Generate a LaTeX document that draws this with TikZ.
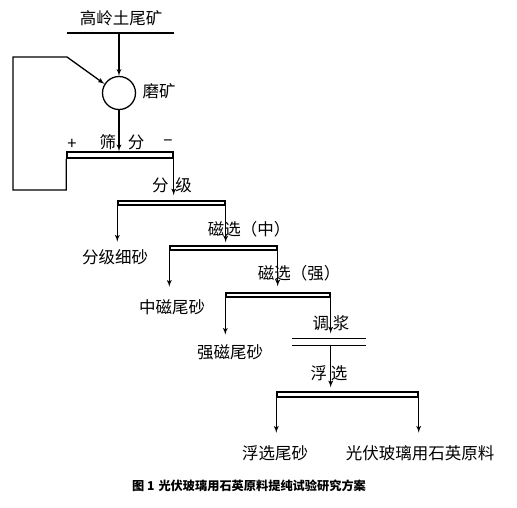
\documentclass[tikz,border=0pt]{standalone}
\usepackage{fontspec}
\newfontfamily\cjk{Noto Sans CJK SC}
\usetikzlibrary{arrows}

\begin{document}
\begin{tikzpicture}[x=1pt,y=-1pt,>=latex',line width=1.3pt,
	every node/.style={font=\cjk\fontsize{16.5}{18}\selectfont,inner sep=0pt},
	bar/.style={draw,rectangle,line width=1.4pt,minimum height=4pt,fill=white},
	thin bar/.style={rectangle,minimum height=6pt}]
			\useasboundingbox (0,0) rectangle (517,507);
			% feed and grinding
			\node (feed) at (121,18) {高岭土尾矿};
			\coordinate (feedL) at (67,33);
			\coordinate (feedR) at (174,33);
			\draw (feedL) -- (feedR);
			\node [circle,draw,minimum size=33pt] (mill) at (119,93) {};
			\node (millT) at (159,91) {磨矿};
			\draw [->] (feedL -| mill) -- (mill.north);
			% screening
			\node [bar,minimum width=106pt,minimum height=6pt] (screen) at (120,155) {};
			\node (screenT) at (122,142) {筛\hspace{12pt}分};
			\node (plus) at (72,144) {+};
			\node (minus) at (168,143) {−};
			\draw [->] (mill.south) -- (mill.south |- screen.north);
			\coordinate (retB) at (13,190);
			\coordinate (retT) at (13,57);
			\coordinate (retK) at (67,57);
			\draw [->] (screen.south west) |- (retB) -- (retT) -- (retK) -- (mill.148);
			% classifying
			\node [bar,minimum width=107pt] (cls) at (171.5,203) {};
			\node (clsT) at (172,185) {分\hspace{7pt}级};
			\draw [->,shorten >=5pt] (screen.south east) -- (screen.south east |- cls.north);
			\node (fine) at (115,257) {分级细砂};
			\draw [->,shorten >=7pt] (cls.south west) -- (cls.south west |- fine.north);
			% magnetic separation (medium)
			\node [bar,minimum width=107pt] (magA) at (223.5,248) {};
			\node (magAT) at (249,229) {磁选（中）};
			\draw [->,shorten >=3pt] (cls.south east) -- (cls.south east |- magA.north);
			\node (tailA) at (172,307) {中磁尾砂};
			\draw [->,shorten >=12pt] (magA.south west) -- (magA.south west |- tailA.north);
			% magnetic separation (strong)
			\node [bar,minimum width=104pt] (magB) at (278,295) {};
			\node (magBT) at (299,273) {磁选（强）};
			\draw [->,shorten >=6pt] (magA.south east) -- (magA.south east |- magB.north);
			\node (tailB) at (230,352) {强磁尾砂};
			\draw [->,shorten >=9pt] (magB.south west) -- (magB.south west |- tailB.north);
			% pulp conditioning
			\node [thin bar,minimum width=72pt] (pulp) at (329,342) {};
			\draw [line width=1.4pt] (pulp.north west) -- (pulp.north east);
			\draw [line width=1.4pt] (pulp.south west) -- (pulp.south east);
			\node (pulpT) at (331,323) {调\hspace{4pt}浆};
			\draw [->,shorten >=5pt] (magB.south east) -- (magB.south east |- pulp.north);
			% flotation
			\node [bar,minimum width=141pt,minimum height=5pt] (flot) at (347.5,394.5) {};
			\node (flotT) at (329,373) {浮\hspace{4pt}选};
			\draw [->,shorten >=4pt] (pulp.south -| magB.south east) -- (magB.south east |- flot.north);
			\node (tailC) at (275,453) {浮选尾砂};
			\node (quartz) at (420,453) {光伏玻璃用石英原料};
			\draw [->,shorten >=12pt] (flot.south west) -- (flot.south west |- tailC.north);
			\draw [->,shorten >=12pt] (flot.south east) -- (flot.south east |- quartz.north);
			% caption
			\node [font=\cjk\bfseries\fontsize{12.2}{14}\selectfont] (title) at (249,486) {图 1\hspace{4pt}光伏玻璃用石英原料提纯试验研究方案};
\end{tikzpicture}
\end{document}
